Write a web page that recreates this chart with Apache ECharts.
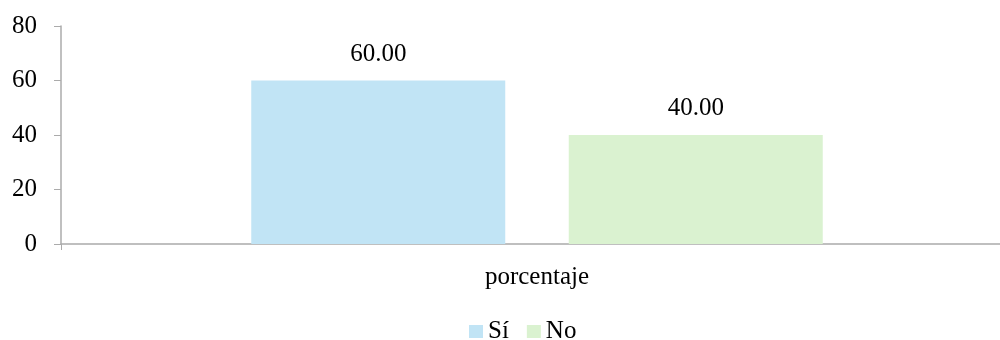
<!DOCTYPE html>
<html>
<head>
<meta charset="utf-8">
<script src="https://cdn.jsdelivr.net/npm/echarts@6/dist/echarts.min.js"></script>
<style>
  html, body { margin: 0; padding: 0; background: #fff; overflow: hidden; }
  #chart { width: 1013px; height: 340px; }
</style>
</head>
<body>
<div id="chart"></div>
<script>
// Share of answers, in percent
const categories = ['porcentaje'];
const seriesNames = ['Sí', 'No'];
const siValues = [60.00];
const noValues = [40.00];
const yTicks = { min: 0, max: 80, interval: 20 };

const font = 'Liberation Serif, Times New Roman, serif';
const axisGray = '#ABABAB';

const chart = echarts.init(document.getElementById('chart'));
const labelStyle = {
  show: true,
  position: 'top',
  distance: 14,
  fontFamily: font,
  fontSize: 25,
  color: '#000',
  formatter: p => p.value.toFixed(2)
};

chart.setOption({
  animation: false,
  grid: { left: 61, right: 0, top: 26, bottom: 96, containLabel: false },
  legend: {
    data: seriesNames,
    top: 319,
    left: 469,
    padding: 0,
    itemWidth: 14,
    itemHeight: 13,
    itemGap: 18,
    icon: 'rect',
    textStyle: { fontFamily: font, fontSize: 25, color: '#000' }
  },
  xAxis: {
    type: 'category',
    data: categories,
    axisLine: { lineStyle: { color: axisGray, width: 1.5 } },
    axisTick: { show: true, length: 6, lineStyle: { color: axisGray } },
    axisLabel: { fontFamily: font, fontSize: 25, color: '#000', margin: 21 }
  },
  yAxis: {
    type: 'value',
    min: yTicks.min,
    max: yTicks.max,
    interval: yTicks.interval,
    splitLine: { show: false },
    axisLine: { show: true, lineStyle: { color: axisGray, width: 1.5 } },
    axisTick: { show: true, length: 7, lineStyle: { color: axisGray } },
    axisLabel: { fontFamily: font, fontSize: 25, color: '#000', margin: 24 }
  },
  series: [
    {
      name: seriesNames[0],
      type: 'bar',
      data: siValues,
      barWidth: 254,
      barGap: '25%',
      itemStyle: { color: '#C1E4F5' },
      label: labelStyle
    },
    {
      name: seriesNames[1],
      type: 'bar',
      data: noValues,
      barWidth: 254,
      barGap: '25%',
      itemStyle: { color: '#DAF2D0' },
      label: labelStyle
    }
  ]
});
</script>
</body>
</html>
